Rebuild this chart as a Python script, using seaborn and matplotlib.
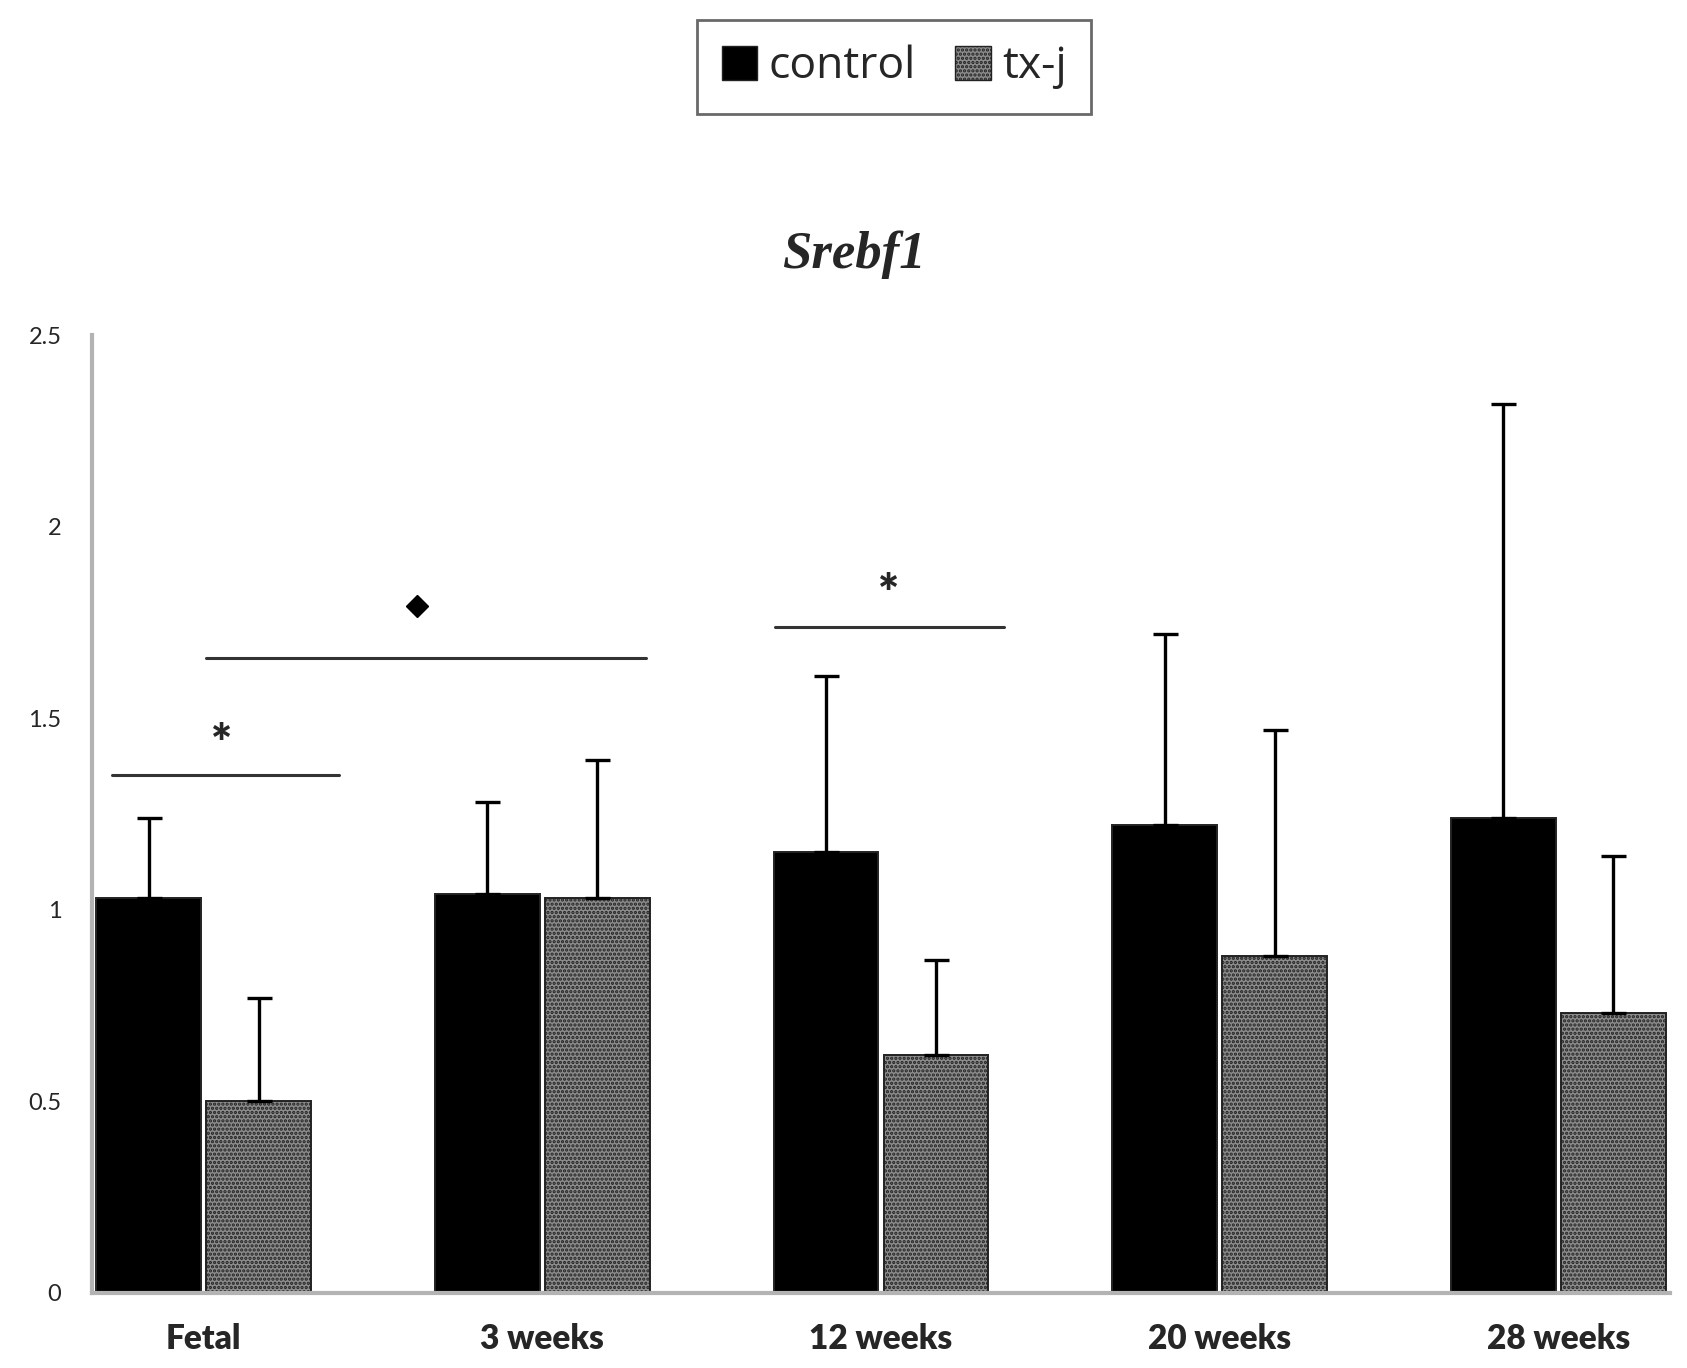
import numpy as np
import pandas as pd
import matplotlib
matplotlib.use("Agg")
import matplotlib.pyplot as plt
from matplotlib.patches import Patch
import seaborn as sns

# values
stages = ["Fetal", "3 weeks", "12 weeks", "20 weeks", "28 weeks"]
groups = ["control", "tx-j"]
control_mean = [1.03, 1.04, 1.15, 1.22, 1.24]
control_err = [0.21, 0.24, 0.46, 0.50, 1.08]
txj_mean = [0.50, 1.03, 0.62, 0.88, 0.73]
txj_err = [0.27, 0.36, 0.25, 0.59, 0.41]

df = pd.DataFrame({
    "stage": stages * 2,
    "group": ["control"] * 5 + ["tx-j"] * 5,
    "value": control_mean + txj_mean,
})
errs = {"control": control_err, "tx-j": txj_err}

sns.set_theme(style="white")
plt.rcParams["font.family"] = ["Lato", "DejaVu Sans"]
plt.rcParams["hatch.linewidth"] = 1.6

fig = plt.figure(figsize=(16.87, 13.68), dpi=100)
ax = fig.add_axes([0.0545, 0.055, 0.9355, 0.70])

sns.barplot(data=df, x="stage", y="value", hue="group", order=stages,
            hue_order=groups, palette=["black", "#8c8c8c"], width=0.65,
            gap=0.05, errorbar=None, ax=ax, legend=False)

# styling of the bars and upper error bars
for cont, g in zip(ax.containers, groups):
    xs, ys = [], []
    for bar in cont:
        bar.set_edgecolor("#222222")
        bar.set_linewidth(1.4)
        if g == "tx-j":
            bar.set_hatch("....")
        xs.append(bar.get_x() + bar.get_width() / 2)
        ys.append(bar.get_height())
    e = np.array(errs[g])
    ax.errorbar(xs, ys, yerr=[np.zeros_like(e), e], fmt="none",
                ecolor="black", elinewidth=2.4, capsize=9, capthick=2.4)

ax.set_xlim(-0.33, 4.33)
ax.set_ylim(0, 2.5)
ax.set_yticks([0, 0.5, 1, 1.5, 2, 2.5])
ax.set_yticklabels(["0", "0.5", "1", "1.5", "2", "2.5"], fontsize=17)
ax.tick_params(axis="y", pad=22, length=0)
ax.tick_params(axis="x", pad=22, length=0)
for lab in ax.get_xticklabels():
    lab.set_fontweight("heavy")
    lab.set_fontsize(24)
ax.set_xlabel("")
ax.set_ylabel("")
sns.despine(ax=ax)
for s in ["left", "bottom"]:
    ax.spines[s].set_color("#b3b3b3")
    ax.spines[s].set_linewidth(3)

# significance marks
ax.plot([-0.27, 0.40], [1.353, 1.353], color="#333333", lw=2.2)
ax.text(0.054, 1.43, "*", ha="center", va="center", fontsize=36, fontweight="heavy")
ax.plot([0.006, 1.306], [1.658, 1.658], color="#333333", lw=2.2)
ax.plot([0.63], [1.794], marker="D", color="black", markersize=11)
ax.plot([1.688, 2.363], [1.737, 1.737], color="#333333", lw=2.2)
ax.text(2.022, 1.82, "*", ha="center", va="center", fontsize=36, fontweight="heavy")

fig.text(0.506, 0.814, "Srebf1", ha="center", va="center", fontsize=38,
         fontweight="bold", fontstyle="italic", family="Liberation Serif")

handles = [Patch(facecolor="black", edgecolor="#222222"),
           Patch(facecolor="#8c8c8c", edgecolor="#222222", hatch="....")]
leg = fig.legend(handles, groups, loc="center", bbox_to_anchor=(0.53, 0.951),
                 ncol=2, frameon=True, fancybox=False,
                 edgecolor="#444444", handlelength=0.8, handleheight=0.8,
                 handletextpad=0.25, columnspacing=0.9, borderpad=0.55,
                 prop={"family": "Open Sans", "size": 32})
leg.get_frame().set_linewidth(2)

fig.savefig("out.png", dpi=100, facecolor="white")
